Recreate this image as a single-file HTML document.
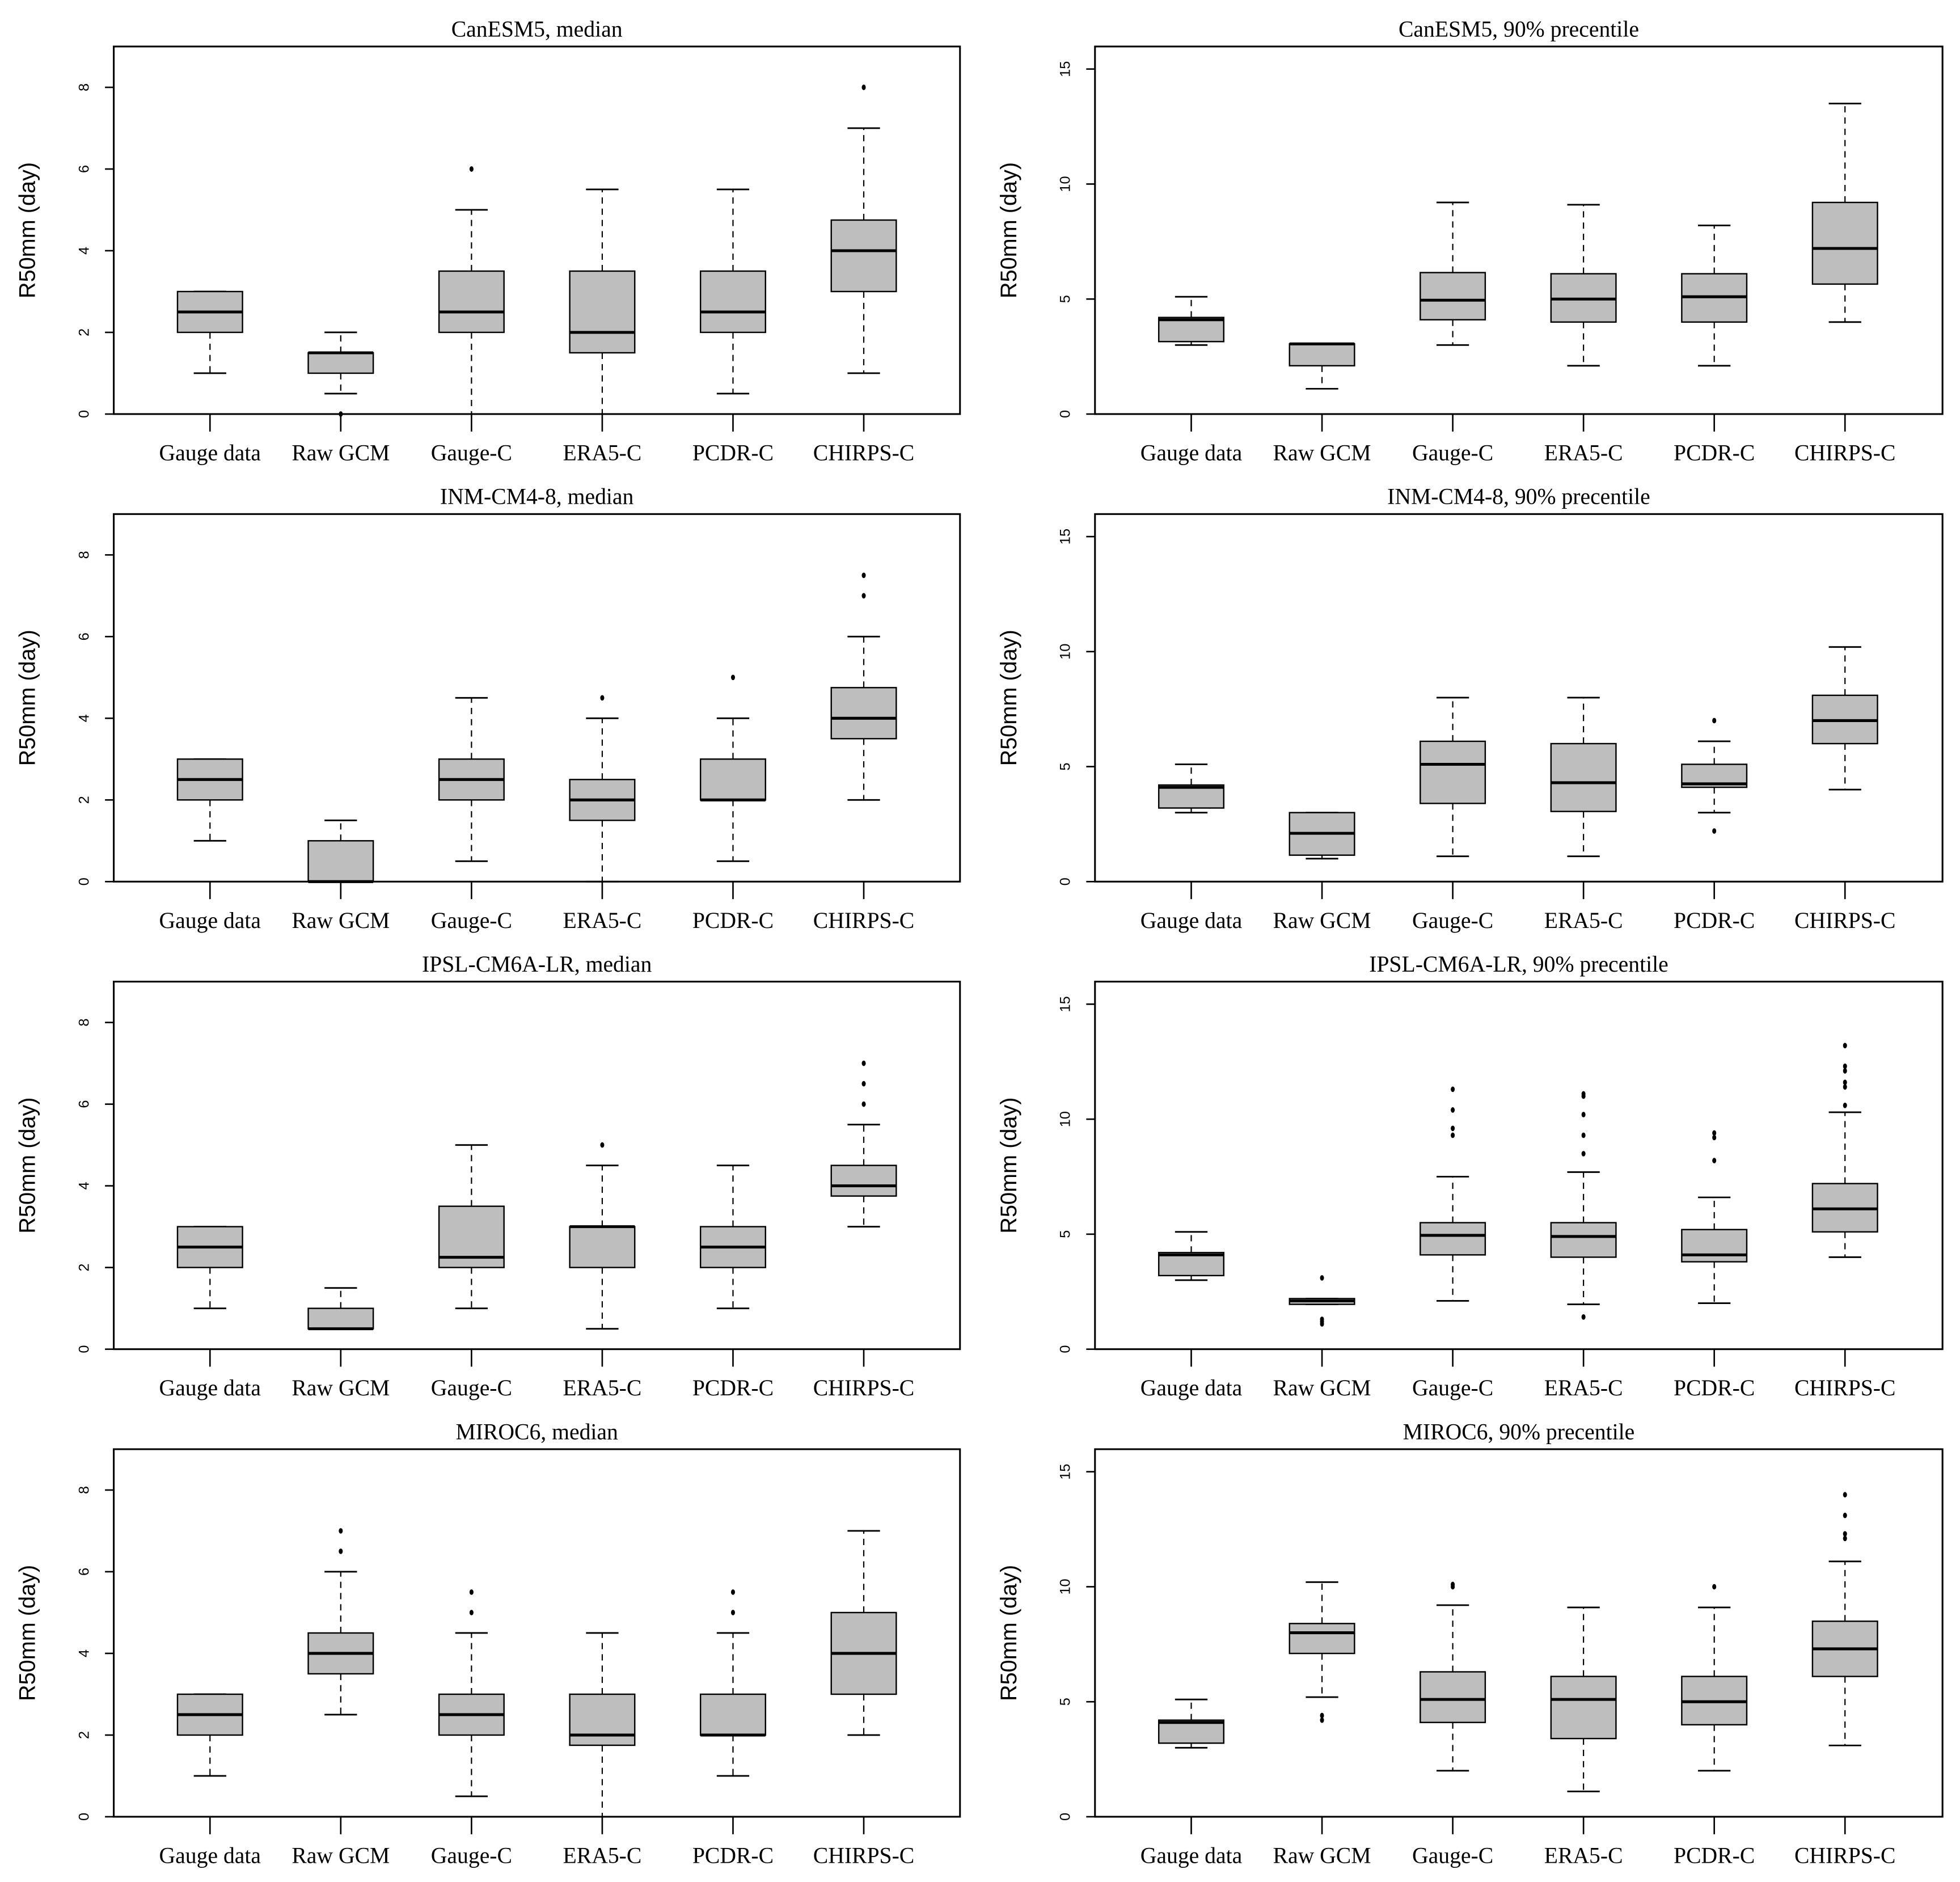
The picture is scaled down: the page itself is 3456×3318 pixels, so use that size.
<!DOCTYPE html>
<html><head><meta charset="utf-8"><style>
html,body{margin:0;padding:0;background:#fff;}
svg{display:block;}
.ttl,.xl{font-family:"Liberation Serif",serif;font-size:18px;fill:#000;}
.yt{font-family:"Liberation Sans",sans-serif;font-size:11.5px;fill:#000;}
.ya{font-family:"Liberation Sans",sans-serif;font-size:18px;fill:#000;}
</style></head><body>
<svg id="fig" width="3456" height="3318" viewBox="0 0 1568 1505" xmlns="http://www.w3.org/2000/svg"></svg>
<script>
const categories = ["Gauge data","Raw GCM","Gauge-C","ERA5-C","PCDR-C","CHIRPS-C"];
const titles = ["CanESM5, median","CanESM5, 90% precentile","INM-CM4-8, median","INM-CM4-8, 90% precentile","IPSL-CM6A-LR, median","IPSL-CM6A-LR, 90% precentile","MIROC6, median","MIROC6, 90% precentile"];
const medianTicks = [0,2,4,6,8];
const pctTicks = [0,5,10,15];
// stats per category: [lowWhisker, q1, median, q3, highWhisker]
const canMedStats = [[1,2,2.5,3,3],[0.5,1,1.5,1.5,2],[0,2,2.5,3.5,5],[0,1.5,2,3.5,5.5],[0.5,2,2.5,3.5,5.5],[1,3,4,4.75,7]];
const canMedOut = [[],[0],[6],[],[],[8]];
const canPctStats = [[3,3.15,4.1,4.2,5.1],[1.1,2.1,3.05,3.05,3.05],[3,4.1,4.95,6.15,9.2],[2.1,4,5,6.1,9.1],[2.1,4,5.1,6.1,8.2],[4,5.65,7.2,9.2,13.5]];
const canPctOut = [[],[],[],[],[],[]];
const inmMedStats = [[1,2,2.5,3,3],[0,0,0,1,1.5],[0.5,2,2.5,3,4.5],[0,1.5,2,2.5,4],[0.5,2,2,3,4],[2,3.5,4,4.75,6]];
const inmMedOut = [[],[],[],[4.5],[5],[7,7.5]];
const inmPctStats = [[3,3.2,4.1,4.2,5.1],[1,1.15,2.1,3,3],[1.1,3.4,5.1,6.1,8],[1.1,3.05,4.3,6,8],[3,4.1,4.25,5.1,6.1],[4,6,7,8.1,10.2]];
const inmPctOut = [[],[],[],[],[2.2,7],[]];
const ipslMedStats = [[1,2,2.5,3,3],[0.5,0.5,0.5,1,1.5],[1,2,2.25,3.5,5],[0.5,2,3,3,4.5],[1,2,2.5,3,4.5],[3,3.75,4,4.5,5.5]];
const ipslMedOut = [[],[],[],[5],[],[6,6.5,7]];
const ipslPctStats = [[3,3.2,4.1,4.2,5.1],[1.95,1.95,2.1,2.2,2.2],[2.1,4.1,4.95,5.5,7.5],[1.95,4,4.9,5.5,7.7],[2,3.8,4.1,5.2,6.6],[4,5.1,6.1,7.2,10.3]];
const ipslPctOut = [[],[1.1,1.2,1.3,3.1],[9.3,9.6,10.4,11.3],[1.4,8.5,9.3,10.2,11,11.1],[8.2,9.2,9.4],[10.6,11.4,11.6,12.1,12.3,13.2]];
const miroMedStats = [[1,2,2.5,3,3],[2.5,3.5,4,4.5,6],[0.5,2,2.5,3,4.5],[0,1.75,2,3,4.5],[1,2,2,3,4.5],[2,3,4,5,7]];
const miroMedOut = [[],[6.5,7],[5,5.5],[],[5,5.5],[]];
const miroPctStats = [[3,3.2,4.1,4.2,5.1],[5.2,7.1,8,8.4,10.2],[2,4.1,5.1,6.3,9.2],[1.1,3.4,5.1,6.1,9.1],[2,4,5,6.1,9.1],[3.1,6.1,7.3,8.5,11.1]];
const miroPctOut = [[],[4.2,4.4],[10,10.1],[],[10],[12.1,12.3,13.1,14]];

const panels = [
 {s:canMedStats,o:canMedOut,med:true},{s:canPctStats,o:canPctOut,med:false},
 {s:inmMedStats,o:inmMedOut,med:true},{s:inmPctStats,o:inmPctOut,med:false},
 {s:ipslMedStats,o:ipslMedOut,med:true},{s:ipslPctStats,o:ipslPctOut,med:false},
 {s:miroMedStats,o:miroMedOut,med:true},{s:miroPctStats,o:miroPctOut,med:false}];

const svg=document.getElementById('fig');
const NS="http://www.w3.org/2000/svg";
function mk(tag,attrs,parent){const e=document.createElementNS(NS,tag);for(const k in attrs)e.setAttribute(k,attrs[k]);parent.appendChild(e);return e;}

panels.forEach((p,i)=>{
  const col=i%2,row=Math.floor(i/2);
  const L=col?876:91,R=col?1554:768,T=37+row*374,B=331+row*374;
  const yMax=p.med?9.0:15.98;
  const y=v=>B-(v/yMax)*(B-T);
  const x0=col?953:168,dx=104.6;
  const x=k=>x0+k*dx;
  const g=mk('g',{},svg);
  
  
  const t=mk('text',{x:(L+R)/2,y:T-8,'text-anchor':'middle',class:'ttl'},g);
  t.textContent=titles[i];
  
  
  const fr=mk('rect',{x:L,y:T,width:R-L,height:B-T,fill:'none',stroke:'#000','stroke-width':1.4},g);
  
  
  const ticks=p.med?medianTicks:pctTicks;
  ticks.forEach(v=>{
    mk('line',{x1:L-7,x2:L,y1:y(v),y2:y(v),stroke:'#000','stroke-width':1.2},g);
    const tl=mk('text',{x:0,y:0,'text-anchor':'middle',class:'yt',transform:`translate(${L-24},${y(v)}) rotate(-90)`,dy:'4'},g);
    tl.textContent=v;
    
    
  });
  const ya=mk('text',{x:0,y:0,'text-anchor':'middle',class:'ya',transform:`translate(${L-69},${(T+B)/2}) rotate(-90)`,dy:'6'},g);
  ya.textContent='R50mm (day)';
  
  
  categories.forEach((c,k)=>{
    mk('line',{x1:x(k),x2:x(k),y1:B,y2:B+14,stroke:'#000','stroke-width':1.2},g);
    const xl=mk('text',{x:x(k),y:B+37,'text-anchor':'middle',class:'xl'},g);
    xl.textContent=c;
    
    
    const [lo,q1,md,q3,hi]=p.s[k];
    const bx=mk('g',{},g);
    
    
    const hw=26,cw=13;
    if(hi>q3)mk('line',{x1:x(k),x2:x(k),y1:y(q3),y2:y(hi),stroke:'#000','stroke-width':1,'stroke-dasharray':'5,4'},bx);
    if(lo<q1)mk('line',{x1:x(k),x2:x(k),y1:y(q1),y2:y(lo),stroke:'#000','stroke-width':1,'stroke-dasharray':'5,4'},bx);
    mk('line',{x1:x(k)-cw,x2:x(k)+cw,y1:y(hi),y2:y(hi),stroke:'#000','stroke-width':1.3},bx);
    mk('line',{x1:x(k)-cw,x2:x(k)+cw,y1:y(lo),y2:y(lo),stroke:'#000','stroke-width':1.3},bx);
    mk('rect',{x:x(k)-hw,y:y(q3),width:2*hw,height:Math.max(y(q1)-y(q3),0.5),fill:'#bebebe',stroke:'#000','stroke-width':1.1},bx);
    mk('line',{x1:x(k)-hw,x2:x(k)+hw,y1:y(md),y2:y(md),stroke:'#000','stroke-width':2.3},bx);
    p.o[k].forEach(v=>{
      const d=mk('ellipse',{cx:x(k),cy:y(v),rx:1.6,ry:2.2,fill:'#000'},bx);
      
      
    });
  });
});
</script>
</body></html>
